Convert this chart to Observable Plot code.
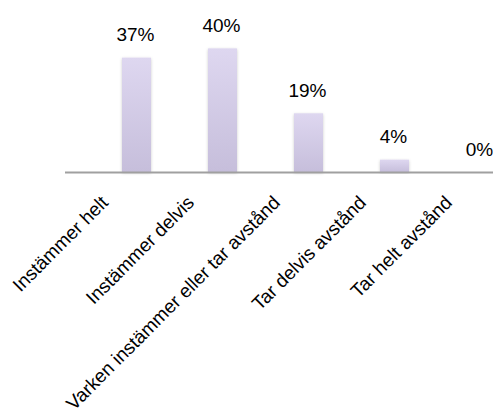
<!DOCTYPE html>
<html>
<head>
<meta charset="utf-8">
<script src="https://cdn.jsdelivr.net/npm/d3@7"></script>
<script src="https://cdn.jsdelivr.net/npm/@observablehq/plot@0.6"></script>
<style>
  html, body { margin: 0; padding: 0; background: #fff; }
</style>
</head>
<body>
<div id="chart"></div>
<script>
const categories = ["Instämmer helt", "Instämmer delvis", "Varken instämmer eller tar avstånd", "Tar delvis avstånd", "Tar helt avstånd"];
const values = [37, 40, 19, 4, 0];
const labels = ["37%", "40%", "19%", "4%", "0%"];

const data = categories.map((c, i) => ({category: c, value: values[i], label: labels[i]}));

const chart = Plot.plot({
  width: 493,
  height: 414,
  marginLeft: 65,
  marginRight: 0,
  marginTop: 2,
  marginBottom: 242,
  style: {fontFamily: "'Liberation Sans', Arial, sans-serif", fontSize: "19px", color: "#000", background: "#fff"},
  x: {domain: categories, range: [65, 552], paddingInner: 0.66, paddingOuter: 0.66, align: 0.5, label: null},
  y: {domain: [0, 55], label: null, axis: null},
  marks: [
    Plot.axisX({tickRotate: -45, tickSize: 0, tickPadding: 6, dx: -32, dy: 21, fontSize: 19, fill: "#000"}),
    Plot.barY(data, {x: "category", y: "value", fill: "url(#barGrad)", filter: d => d.value > 0}),
    Plot.ruleY([0], {stroke: "#a0a0a0", strokeWidth: 2}),
    Plot.text(data, {x: "category", y: "value", text: "label", lineAnchor: "bottom", dy: -17, dx: -1.5, fontSize: 19, fill: "#000"})
  ]
});

const ns = "http://www.w3.org/2000/svg";
const defs = document.createElementNS(ns, "defs");
const grad = document.createElementNS(ns, "linearGradient");
grad.setAttribute("id", "barGrad");
grad.setAttribute("x1", "0"); grad.setAttribute("y1", "0");
grad.setAttribute("x2", "0"); grad.setAttribute("y2", "1");
[["0%", "#ded7f0"], ["100%", "#c6bedb"]].forEach(([o, c]) => {
  const s = document.createElementNS(ns, "stop");
  s.setAttribute("offset", o); s.setAttribute("stop-color", c);
  grad.appendChild(s);
});
defs.appendChild(grad);
const filt = document.createElementNS(ns, "filter");
filt.setAttribute("id", "barShadow");
filt.setAttribute("x", "-30%"); filt.setAttribute("y", "-10%");
filt.setAttribute("width", "160%"); filt.setAttribute("height", "120%");
const ds = document.createElementNS(ns, "feDropShadow");
ds.setAttribute("dx", "0"); ds.setAttribute("dy", "1");
ds.setAttribute("stdDeviation", "1.5"); ds.setAttribute("flood-color", "#000"); ds.setAttribute("flood-opacity", "0.2");
filt.appendChild(ds);
defs.appendChild(filt);
chart.insertBefore(defs, chart.firstChild);
chart.querySelectorAll("rect").forEach(r => { if (r.getAttribute("fill") === "url(#barGrad)" || (r.parentNode && r.parentNode.getAttribute && r.parentNode.getAttribute("fill") === "url(#barGrad)")) r.setAttribute("filter", "url(#barShadow)"); });

document.getElementById("chart").appendChild(chart);
</script>
</body>
</html>
